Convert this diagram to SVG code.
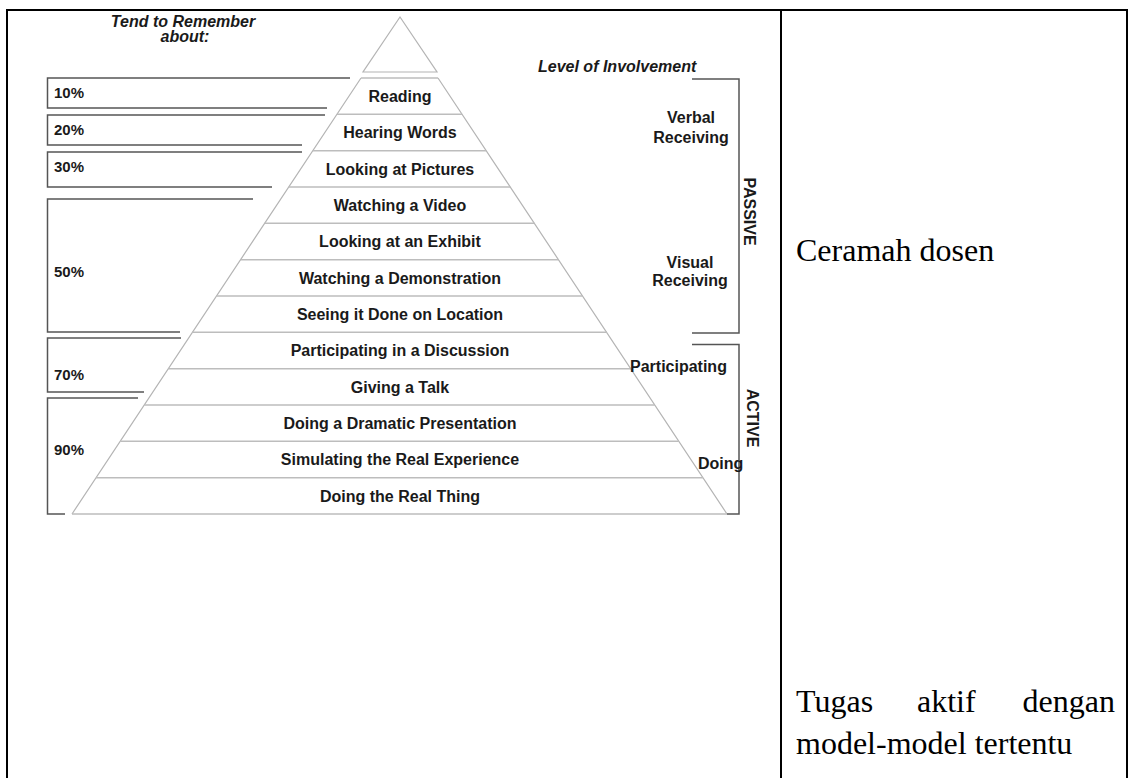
<svg xmlns="http://www.w3.org/2000/svg" width="1130" height="778" viewBox="0 0 1130 778">
  <style>
    .cell { fill: none; stroke: #000; stroke-width: 2; }
    .edge { fill: none; stroke: #b4b4b4; stroke-width: 1.2; }
    .band { fill: none; stroke: #bdbdbd; stroke-width: 1.4; }
    .bracket { fill: none; stroke: #555; stroke-width: 1.5; }
    .lbl { font-family: "Liberation Sans", Arial, sans-serif; font-weight: bold; font-size: 16px; fill: #1a1a1a; }
    .mid { text-anchor: middle; }
    .ital { font-style: italic; }
    .pct { font-family: "Liberation Sans", Arial, sans-serif; font-weight: bold; font-size: 15px; fill: #1a1a1a; }
    .body { font-family: "Liberation Serif", "Times New Roman", serif; font-size: 32px; fill: #000; }
  </style>

  <rect width="1130" height="778" fill="#fff"/>

  <!-- table frame -->
  <g id="table">
    <path class="cell" d="M7 10 H1127 M7 9 V778 M781 10 V778 M1127 9 V778"/>
  </g>

  <!-- headings -->
  <g id="heading-remember">
    <text class="lbl ital mid" x="183" y="26.5">Tend to Remember</text>
    <text class="lbl ital mid" x="185" y="41.5">about:</text>
  </g>
  <g id="heading-involvement">
    <text class="lbl ital" x="538" y="72">Level of Involvement</text>
  </g>

  <!-- pyramid outline and band dividers -->
  <g id="pyramid">
    <path class="edge" d="M400 17 L363 72 H437 Z"/>
    <path class="edge" d="M361 78 L72 514 M438 78 L727 514"/>
    <path class="band" d="M361 78 H438 M336.9 114.3 H462.1 M312.8 150.7 H486.2 M288.8 187 H510.3 M264.7 223.3 H534.3 M240.6 259.7 H558.4 M216.5 296 H582.5 M192.4 332.3 H606.6 M168.3 368.7 H630.7 M144.3 405 H654.8 M120.2 441.3 H678.8 M96.1 477.7 H702.9 M72 514 H727"/>
  </g>

  <!-- pyramid band labels -->
  <g id="bands" class="lbl mid">
    <g id="band-reading"><text x="400" y="101.5">Reading</text></g>
    <g id="band-hearing"><text x="400" y="138.2">Hearing Words</text></g>
    <g id="band-pictures"><text x="400" y="174.5">Looking at Pictures</text></g>
    <g id="band-video"><text x="400" y="210.9">Watching a Video</text></g>
    <g id="band-exhibit"><text x="400" y="247.2">Looking at an Exhibit</text></g>
    <g id="band-demo"><text x="400" y="283.5">Watching a Demonstration</text></g>
    <g id="band-location"><text x="400" y="319.9">Seeing it Done on Location</text></g>
    <g id="band-discussion"><text x="400" y="356.2">Participating in a Discussion</text></g>
    <g id="band-talk"><text x="400" y="392.5">Giving a Talk</text></g>
    <g id="band-drama"><text x="400" y="428.9">Doing a Dramatic Presentation</text></g>
    <g id="band-simulate"><text x="400" y="465.2">Simulating the Real Experience</text></g>
    <g id="band-real"><text x="400" y="501.5">Doing the Real Thing</text></g>
  </g>

  <!-- retention brackets on the left -->
  <g id="brackets-left" class="bracket">
    <path d="M350 78 H47.5 V108 H327"/>
    <path d="M325 115 H47.5 V145 H302"/>
    <path d="M302 152 H47.5 V187 H272"/>
    <path d="M253 199 H47.5 V332 H180"/>
    <path d="M181 338 H47.5 V392 H144"/>
    <path d="M138 398 H47.5 V514 H65"/>
  </g>
  <g id="pct-10"><text class="pct" x="54" y="98">10%</text></g>
  <g id="pct-20"><text class="pct" x="54" y="135">20%</text></g>
  <g id="pct-30"><text class="pct" x="54" y="171.5">30%</text></g>
  <g id="pct-50"><text class="pct" x="54" y="277">50%</text></g>
  <g id="pct-70"><text class="pct" x="54" y="380">70%</text></g>
  <g id="pct-90"><text class="pct" x="54" y="455">90%</text></g>

  <!-- involvement brackets on the right -->
  <g id="brackets-right" class="bracket">
    <path d="M692 79 H739 V333 H692"/>
    <path d="M692 344.5 H739 V514 H727"/>
  </g>
  <g id="verbal-receiving" class="lbl mid">
    <text x="691" y="123">Verbal</text>
    <text x="691" y="143">Receiving</text>
  </g>
  <g id="visual-receiving" class="lbl mid">
    <text x="690" y="267.5">Visual</text>
    <text x="690" y="286">Receiving</text>
  </g>
  <g id="participating"><text class="lbl" x="630" y="372">Participating</text></g>
  <g id="doing"><text class="lbl" x="698" y="469">Doing</text></g>
  <g id="passive"><text class="lbl mid" transform="translate(743.5 211.5) rotate(90)">PASSIVE</text></g>
  <g id="active"><text class="lbl mid" transform="translate(746.5 418) rotate(90)">ACTIVE</text></g>

  <!-- right-hand column notes -->
  <g id="note-lecture">
    <text class="body" x="796" y="261">Ceramah dosen</text>
  </g>
  <g id="note-task">
    <text class="body" x="796" y="712">Tugas</text>
    <text class="body" x="917" y="712">aktif</text>
    <text class="body" x="1115" y="712" text-anchor="end">dengan</text>
    <text class="body" x="796" y="754">model-model tertentu</text>
  </g>
</svg>
